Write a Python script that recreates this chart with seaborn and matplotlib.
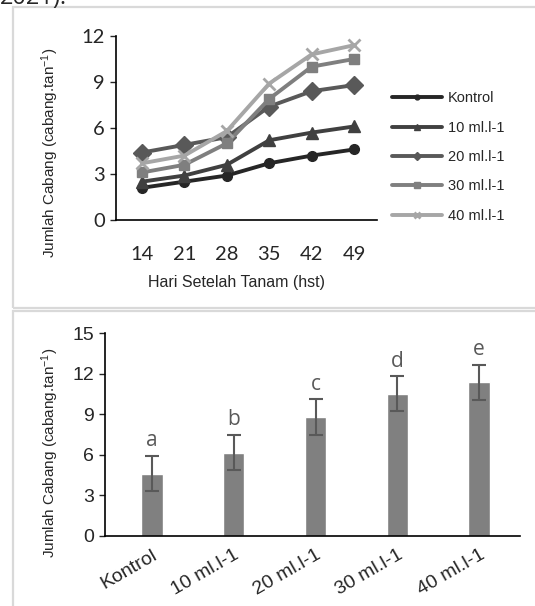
import pandas as pd
import matplotlib.pyplot as plt
import seaborn as sns
from matplotlib.patches import Rectangle

sns.set_style('white')
plt.rcParams['font.family'] = ['Liberation Sans', 'DejaVu Sans']
plt.rcParams['mathtext.fontset'] = 'custom'
plt.rcParams['mathtext.rm'] = 'Liberation Sans'
plt.rcParams['mathtext.it'] = 'Liberation Sans'

# data
hst = ['14', '21', '28', '35', '42', '49']
kontrol = [2.1, 2.5, 2.9, 3.7, 4.2, 4.6]
dosis10 = [2.5, 2.9, 3.6, 5.2, 5.7, 6.1]
dosis20 = [4.4, 4.9, 5.4, 7.4, 8.4, 8.8]
dosis30 = [3.1, 3.6, 5.0, 7.9, 10.0, 10.5]
dosis40 = [3.7, 4.2, 5.8, 8.9, 10.8, 11.4]
series_names = ['Kontrol', '10 ml.l-1', '20 ml.l-1', '30 ml.l-1', '40 ml.l-1']

perlakuan = ['Kontrol', '10 ml.l-1', '20 ml.l-1', '30 ml.l-1', '40 ml.l-1']
rerata = [4.6, 6.15, 8.8, 10.5, 11.35]
galat = [1.3, 1.3, 1.3, 1.3, 1.3]
notasi = ['a', 'b', 'c', 'd', 'e']

W, H = 535, 606
fig = plt.figure(figsize=(W / 100, H / 100), dpi=100)

def box(l, t, r, b):
    return [l / W, 1 - b / H, (r - l) / W, (b - t) / H]

# bingkai panel
fig.patches.append(Rectangle((13 / W, 1 - 308 / H), 1, 301 / H, transform=fig.transFigure,
                             fill=False, ec='#d9d9d9', lw=1.6))
fig.patches.append(Rectangle((13 / W, -0.1), 1, 0.1 + (606 - 311) / H, transform=fig.transFigure,
                             fill=False, ec='#d9d9d9', lw=1.6))
# potongan teks dokumen di atas gambar
fig.text(0.0, 1 - 4 / H, '2021).', fontsize=17, family='Open Sans', va='baseline', ha='left')

# grafik garis
ax1 = fig.add_axes(box(116, 36, 377, 220))
warna = ['#262626', '#404040', '#595959', '#7f7f7f', '#a6a6a6']
penanda = ['o', '^', 'D', 's', 'x']
ukuran = [7, 9, 9, 7.5, 8]
for nama, nilai, c, m, ms in zip(series_names, [kontrol, dosis10, dosis20, dosis30, dosis40],
                                 warna, penanda, ukuran):
    df = pd.DataFrame({'hst': hst, 'nilai': nilai})
    sns.lineplot(data=df, x='hst', y='nilai', ax=ax1, color=c, marker=m, markersize=ms,
                 markeredgecolor=c, markeredgewidth=2 if m == 'x' else 1, lw=2.8, label=nama)
ax1.set_xlim(-0.613, 5.54)
ax1.set_ylim(0, 12)
ax1.set_yticks([0, 3, 6, 9, 12])
ax1.set_xlabel('')
ax1.set_ylabel('')
for s in ['top', 'right']:
    ax1.spines[s].set_visible(False)
for s in ['left', 'bottom']:
    ax1.spines[s].set_color('black')
    ax1.spines[s].set_linewidth(1.2)
ax1.tick_params(axis='y', left=True, length=4, width=1, labelsize=14.5, pad=4)
ax1.tick_params(axis='x', bottom=False, labelsize=14.5, pad=15)
for t in ax1.get_xticklabels() + ax1.get_yticklabels():
    t.set_family('Lato')
leg = ax1.legend(loc='center left', bbox_to_anchor=(385 / W, 1 - 157 / H), bbox_transform=fig.transFigure,
                 frameon=False, fontsize=10.5, handlelength=3.4, handletextpad=0.4,
                 labelspacing=1.05, markerscale=0.5, borderpad=0)
fig.text(50 / W, 1 - 153 / H, r'Jumlah Cabang (cabang.tan$^{-1}$)', rotation=90,
         ha='center', va='center', fontsize=11)
fig.text(237 / W, 1 - 283 / H, 'Hari Setelah Tanam (hst)', ha='center', va='center', fontsize=11.5)

# grafik batang
ax2 = fig.add_axes(box(105, 333, 520, 536))
sns.barplot(x=perlakuan, y=rerata, ax=ax2, color='#808080', width=0.26, saturation=1)
ax2.errorbar(x=range(len(perlakuan)), y=rerata, yerr=galat, fmt='none', ecolor='#595959',
             elinewidth=1.5, capsize=5, capthick=1.5)
for i, (v, e, n) in enumerate(zip(rerata, galat, notasi)):
    ax2.text(i, v + e + 0.35, n, ha='center', va='bottom', fontsize=15, color='#595959', family='Open Sans')
ax2.set_xlim(-0.575, 4.5)
ax2.set_ylim(0, 15)
ax2.set_yticks([0, 3, 6, 9, 12, 15])
for s in ['top', 'right']:
    ax2.spines[s].set_visible(False)
for s in ['left', 'bottom']:
    ax2.spines[s].set_color('black')
    ax2.spines[s].set_linewidth(1.2)
ax2.tick_params(axis='y', left=True, length=4, width=1, labelsize=14, pad=4)
ax2.tick_params(axis='x', bottom=False, labelsize=14, pad=4)
plt.setp(ax2.get_xticklabels(), rotation=30, ha='right', rotation_mode='anchor')
fig.text(50 / W, 1 - 453 / H, r'Jumlah Cabang (cabang.tan$^{-1}$)', rotation=90,
         ha='center', va='center', fontsize=11)

fig.savefig('out.png', dpi=100)
